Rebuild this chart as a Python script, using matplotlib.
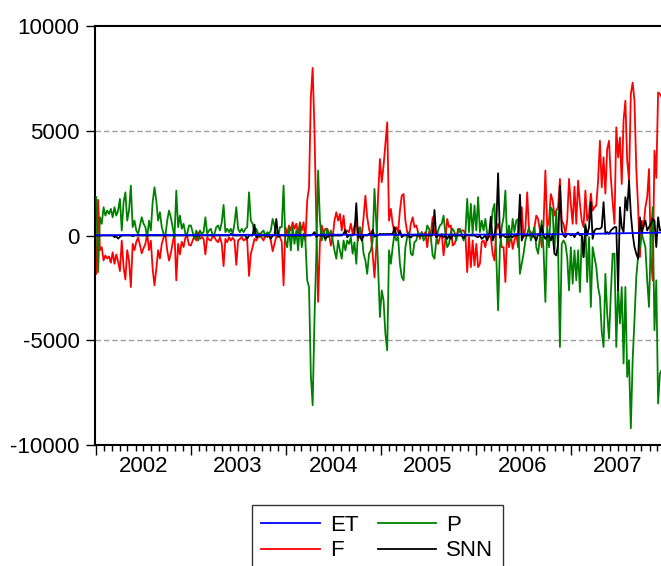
import pandas as pd
import matplotlib
matplotlib.use('Agg')
import matplotlib.pyplot as plt
import matplotlib.dates as mdates
from matplotlib.ticker import FuncFormatter, NullFormatter

plt.rcParams['font.family'] = ['Liberation Sans', 'DejaVu Sans']
plt.rcParams['axes.unicode_minus'] = False

# %%
# Weekly series, 52 weeks per year
f_2002 = [-1830, 1700, -700, -560, -1190, -950, -1100, -1000, -1300, -800,
          -1350, -900, -1250, -1700, -250, -1500, -2100, -700, -1200, -2460,
          -400, -700, -300, -100, -450, -850, -600, -400, 100, -700,
          -250, -1600, -2380, -1600, -700, -1100, -400, -100, 50, -700,
          -1200, -850, -350, 100, -2140, -400, -900, -300, -550, -100,
          -50, -450]
f_2003 = [-480, -240, 0, -240, 160, -160, -80, -160, -900, -80,
          -200, -240, -50, -80, -240, -320, -80, -400, -1460, -160,
          -320, -80, -240, -110, -240, -1400, -240, -160, -80, -240,
          -160, -240, -1930, -870, -550, -160, -240, -80, 110, -110,
          -240, 80, -80, 0, -240, -750, -400, -50, 160, -80,
          -300, -2380]
f_2004 = [400, 80, 480, 240, 630, 320, 560, 80, 630, 240,
          630, -240, 1670, 2300, 6600, 8000, 5000, 700, -3170, -300,
          480, 80, 320, 320, 80, -480, -80, 710, 1110, 710,
          1030, 240, 950, 80, 240, 160, 560, 80, 480, 710,
          -240, 240, 0, 870, 1900, 870, 320, 0, -870, -2000,
          -600, 1900]
f_2005 = [3650, 2540, 3330, 4370, 5400, 710, 1270, 560, 160, 400,
          160, 1190, 1900, 1980, 710, 160, -80, 560, 870, 400,
          480, 160, -160, 160, 0, 160, -560, 160, 80, 870,
          80, -80, -400, -80, 80, -950, -160, 790, 400, 480,
          -480, -400, -160, 320, 160, 240, 240, 80, -1750, -80,
          -1510, -240]
f_2006 = [-1430, -400, -1510, -1350, -300, -240, -560, 0, 80, -80,
          -870, -1190, 240, 550, 240, -560, -560, -2220, 240, -560,
          80, -640, -240, 80, -560, 1030, 1350, -80, 320, 2060,
          240, 160, -80, 400, 950, 790, 240, -560, 550, 3100,
          400, 710, 1980, 1670, 950, 1190, 1350, 2700, 710, 550,
          80, 710]
f_2007 = [2700, 1510, 560, 2330, 560, 2620, 1510, 710, 400, 2140,
          710, 1030, 2000, 1190, 1350, 1430, 2620, 4520, 2300, 3730,
          2000, 4130, 4520, 2760, 1590, 560, 5160, 3730, 4680, 2460,
          5500, 6430, 3570, 2620, 6750, 7300, 6430, 3170, 1350, -1030,
          710, 400, 1350, 1830, 3170, -1030, -2140, 4050, 2750, 6830,
          6750, 6600]

p_2002 = [1830, -1750, 870, 560, 1350, 950, 1190, 1030, 1270, 870,
          1350, 950, 1190, 1750, 240, 1590, 2060, 710, 1190, 2380,
          400, 710, 240, 80, 480, 870, 560, 400, -80, 710,
          240, 1590, 2300, 1670, 710, 1110, 400, 80, 0, 710,
          1190, 870, 400, -80, 2140, 400, 950, 320, 560, 80,
          80, 480]
p_2003 = [480, 160, -160, 240, -240, 240, 80, 160, 870, 80,
          240, 320, 0, 80, 400, 480, 240, 630, 1460, 160,
          320, 160, 320, 80, 560, 1350, 320, 160, 320, 160,
          320, 400, 2060, 710, 560, 80, 320, 80, -80, 160,
          240, -80, 160, 80, 240, 790, 480, 80, -80, 400,
          400, 2380]
p_2004 = [-240, -560, 400, -710, 400, -400, 240, -710, 560, -560,
          80, -240, -2140, -2460, -6670, -8100, -4000, -900, 3100, 700,
          -240, 240, -240, 320, -80, 240, -240, -710, -1110, -240,
          -710, -1110, -240, -710, -240, -400, -80, -870, -320, -1350,
          240, 400, 80, -870, -1190, -1830, -870, -710, -240, 2220,
          600, -1500]
p_2005 = [-3890, -2620, -3100, -4680, -5480, -710, -1350, -560, 80, -240,
          -80, -1350, -1980, -2140, -560, -80, 160, -870, -950, -320,
          -240, 160, -80, 160, -240, -80, 480, 320, -80, -950,
          -1110, -240, 240, 480, 560, 950, 80, -560, -400, 160,
          320, 160, -240, 240, 320, 80, -240, 80, 1750, 160,
          1510, 80]
p_2006 = [1430, 240, 1830, 160, 710, 240, 790, 80, -80, 240,
          1190, 1510, -1030, -3570, -560, 400, 870, 2140, -400, 480,
          -240, 790, 160, 710, 790, -1830, -1350, -870, -240, 80,
          400, -240, 80, 400, -560, -870, -80, 710, -710, -3170,
          400, -560, 1350, 1190, -710, 1190, -710, -5320, -400, -240,
          -400, -1030]
p_2007 = [-2620, -560, -2300, -710, -2140, -710, -2700, -80, -1030, 550,
          -2220, -80, -3410, -560, -1030, -1510, -2460, -2940, -4600, -5320,
          -1830, -3730, -4920, -2780, -870, -870, -5320, -2460, -4200, -2460,
          -6110, -2460, -6750, -5950, -9200, -5950, -4050, -1980, -1000, -550,
          80, -240, -550, -2140, -3410, -80, 1350, -4520, -2140, -8020,
          -6590, -6400]

snn_2002 = [0, 0, 0, 0, 0, 0, 0, 0, 0, 0,
            -80, -40, -150, -60, 0, 0, 0, 0, 0, 0,
            -30, 0, 0, 0, 0, 0, 0, 0, 0, 0,
            0, 0, 0, 0, 0, 0, 0, 0, 0, 0,
            0, 0, 0, 0, 0, 0, 0, 0, 0, 0,
            0, 0]
snn_2003 = [0, 0, 0, 0, 0, 0, 0, 0, 0, 0,
            0, 0, 0, 0, 0, 0, 0, 0, 0, 0,
            0, 0, 80, 0, 0, 0, 0, 0, 0, 0,
            0, -160, 0, 0, 0, 520, -100, 0, 0, 0,
            0, 0, 0, 0, -150, 0, 0, 790, -50, 0,
            0, 0]
snn_2004 = [0, 0, 0, 0, 0, 0, 0, 0, 0, 0,
            0, 0, 0, 0, 0, 60, 160, -60, 0, 0,
            0, 0, -160, -60, 0, 0, 0, 0, 0, 0,
            0, 0, 80, 270, -80, 0, 0, 0, 100, 1540,
            -100, 0, -240, 0, 0, 0, 80, 0, 270, -60,
            0, 0]
snn_2005 = [80, 50, 80, 50, 80, 60, 80, 50, 400, 0,
            0, 240, -80, 0, 0, 0, 0, -100, 0, 0,
            0, 0, 0, 0, 0, 0, 0, 0, 0, 0,
            1220, -80, 0, 0, 0, -80, 0, -160, 0, -160,
            0, 0, 0, 0, 0, 0, -130, 0, 0, 0,
            0, 0]
snn_2006 = [0, -50, -80, 0, -160, -80, 0, -240, 0, 900,
            -240, 0, 550, 2970, -100, 0, 0, -80, -50, -80,
            0, -80, 0, 0, 0, 1950, -240, 0, 0, 0,
            0, 50, 0, -80, -240, 80, 0, 480, 0, -160,
            0, 0, -240, 80, -870, -950, -400, 2380, 240, 0,
            -80, 80]
snn_2007 = [80, 0, 80, -80, 80, 150, 0, 80, -1030, 480,
            0, 400, 1590, -160, 240, 320, 320, 320, 400, 1590,
            80, 160, 80, 240, 320, 400, 400, -2620, 1350, 400,
            160, 1830, 1190, 2620, 1030, 80, -550, -870, -1110, 870,
            80, 480, 710, 240, 400, 560, 800, 710, -550, 870,
            240, 300]

# ET is a slow, almost flat series; quarterly readings
et_vals = [10, 20, 30, 25, 20, 25, 35, 30, 25, 30, 40, 35, 30,
           40, 50, 45, 40, 50, 60, 55, 60, 80, 100, 120, 140]

f_vals = f_2002 + f_2003 + f_2004 + f_2005 + f_2006 + f_2007
p_vals = p_2002 + p_2003 + p_2004 + p_2005 + p_2006 + p_2007
snn_vals = snn_2002 + snn_2003 + snn_2004 + snn_2005 + snn_2006 + snn_2007
dates = pd.date_range('2002-01-01', periods=len(f_vals), freq='7D')
et_dates = pd.date_range(dates[0], dates[-1], periods=len(et_vals))

# %%
fig = plt.figure(figsize=(6.61, 5.66), dpi=100)
ax = fig.add_axes([95 / 661, 1 - 445 / 566, 567 / 661, 419 / 566])

for yv in (-5000, 5000):
    ax.axhline(yv, color='#a0a0a0', lw=1, ls=(0, (4, 2)), zorder=1)

l_f, = ax.plot(dates, f_vals, color='#ff0000', lw=1.3, zorder=2, label='F')
l_p, = ax.plot(dates, p_vals, color='#008000', lw=1.3, zorder=3, label='P')
l_s, = ax.plot(dates, snn_vals, color='black', lw=1.3, zorder=4, label='SNN')
l_e, = ax.plot(et_dates, et_vals, color='#0000ff', lw=1.3, zorder=5, label='ET')

ax.set_xlim(pd.Timestamp('2001-12-27'), pd.Timestamp('2007-12-19'))
ax.set_ylim(-10000, 10000)
ax.set_yticks([-10000, -5000, 0, 5000, 10000])
ax.tick_params(axis='y', labelsize=16, length=6.5, width=1, pad=4.5, direction='out')

ax.xaxis.set_major_locator(mdates.YearLocator())
ax.xaxis.set_major_formatter(NullFormatter())
ax.xaxis.set_minor_locator(mdates.MonthLocator())
ax.xaxis.set_minor_formatter(FuncFormatter(
    lambda v, pos: str(mdates.num2date(v).year) if mdates.num2date(v).month == 7 else ''))
ax.tick_params(axis='x', which='major', length=7, width=1)
ax.tick_params(axis='x', which='minor', length=4, width=1, labelsize=16, pad=4)

for side in ('left', 'bottom', 'top'):
    ax.spines[side].set_linewidth(1.5)
ax.spines['right'].set_visible(False)

leg = fig.legend([l_e, l_f, l_p, l_s], ['ET', 'F', 'P', 'SNN'], ncol=2,
                 loc='upper center', bbox_to_anchor=(0.571, 1 - 505 / 566),
                 fontsize=16, frameon=True, fancybox=False, edgecolor='black',
                 handlelength=2.65, handletextpad=0.45, columnspacing=0.85,
                 labelspacing=0.22, borderpad=0.43, borderaxespad=0)
leg.get_frame().set_linewidth(1)

fig.savefig('out.png', dpi=100)
